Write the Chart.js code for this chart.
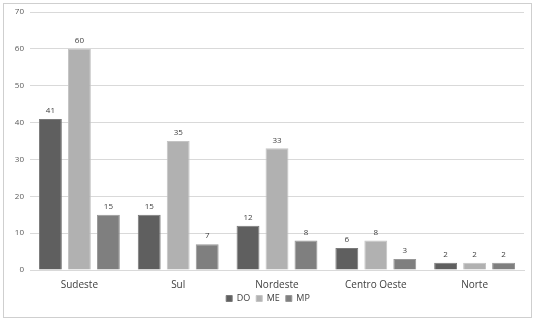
<!DOCTYPE html>
<html lang="pt">
<head>
<meta charset="UTF-8">
<title>Regiões</title>
<script src="https://cdn.jsdelivr.net/npm/chart.js"></script>
<style>
    html, body { margin: 0; padding: 0; background: #fff; }
    #wrap { width: 536px; height: 323px; position: relative; }
</style>
</head>
<body>
<div id="wrap"><canvas id="barChart" width="536" height="323"></canvas></div>
<script>
    const regions = ['Sudeste', 'Sul', 'Nordeste', 'Centro Oeste', 'Norte'];
    const doValues = [41, 15, 12, 6, 2];
    const meValues = [60, 35, 33, 8, 2];
    const mpValues = [15, 7, 8, 3, 2];
    const yTicks = [0, 10, 20, 30, 40, 50, 60, 70];

    const fontName = "'Open Sans', 'Liberation Sans', sans-serif";

    // outer frame like the spreadsheet chart box
    const framePlugin = {
        id: 'frame',
        beforeDraw(chart) {
            const c = chart.ctx;
            c.save();
            c.fillStyle = '#fff';
            c.fillRect(0, 0, chart.width, chart.height);
            c.strokeStyle = '#cfcfcf';
            c.lineWidth = 1;
            c.strokeRect(3.5, 3.5, 528, 314);
            c.restore();
        }
    };

    // value labels above each bar
    const valuePlugin = {
        id: 'values',
        afterDatasetsDraw(chart) {
            const c = chart.ctx;
            c.save();
            c.font = '8px ' + fontName;
            c.fillStyle = '#404040';
            c.textAlign = 'center';
            c.textBaseline = 'middle';
            chart.data.datasets.forEach((ds, i) => {
                chart.getDatasetMeta(i).data.forEach((bar, j) => {
                    c.fillText(ds.data[j], bar.x, bar.y - 8);
                });
            });
            c.restore();
        }
    };

    new Chart(document.getElementById('barChart'), {
        type: 'bar',
        data: {
            labels: regions,
            datasets: [
                { label: 'DO', data: doValues, backgroundColor: '#5f5f5f', borderColor: '#7a7a7a', borderWidth: 1 },
                { label: 'ME', data: meValues, backgroundColor: '#b1b1b1', borderColor: '#c4c4c4', borderWidth: 1 },
                { label: 'MP', data: mpValues, backgroundColor: '#7f7f7f', borderColor: '#979797', borderWidth: 1 }
            ]
        },
        options: {
            responsive: false,
            animation: false,
            categoryPercentage: 0.88,
            barPercentage: 0.79,
            layout: { padding: { left: 0, right: 0, top: 12, bottom: 10 } },
            plugins: {
                tooltip: { enabled: false },
                legend: {
                    position: 'bottom',
                    labels: {
                        boxWidth: 6,
                        boxHeight: 6,
                        padding: 6,
                        color: '#404040',
                        font: { family: fontName, size: 9 }
                    }
                }
            },
            scales: {
                x: {
                    grid: { display: false },
                    border: { color: '#d9d9d9' },
                    ticks: { color: '#404040', font: { family: fontName, size: 10 }, padding: 1 },
                    afterFit(scale) { scale.height = 18; }
                },
                y: {
                    min: 0,
                    max: 70,
                    afterBuildTicks(scale) { scale.ticks = yTicks.map(v => ({ value: v })); },
                    grid: { color: '#d9d9d9', drawTicks: false },
                    border: { display: false },
                    ticks: { color: '#595959', font: { family: fontName, size: 8 }, padding: 6 },
                    afterFit(scale) { scale.width = 30; }
                },
                // empty right axis, only reserves the right margin
                yRight: {
                    position: 'right',
                    min: 0,
                    max: 70,
                    grid: { display: false },
                    border: { display: false },
                    ticks: { display: false },
                    afterFit(scale) { scale.width = 12; }
                }
            }
        },
        plugins: [framePlugin, valuePlugin]
    });
</script>
</body>
</html>
